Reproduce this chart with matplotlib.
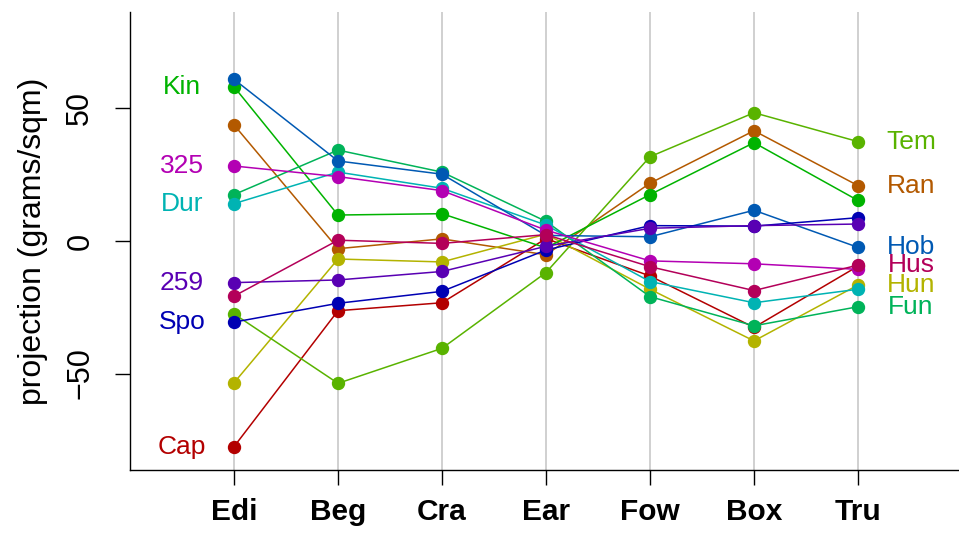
import matplotlib
matplotlib.use("Agg")
import matplotlib.pyplot as plt

plt.rcParams['font.family'] = ['Liberation Sans', 'DejaVu Sans']

# Variables along the x axis
categories = ["Edi", "Beg", "Cra", "Ear", "Fow", "Box", "Tru"]

# Projection of each site onto the variables (grams/sqm)
cap = [-77.6, -26.3, -23.3, 0.9, -13.2, -32.6, -9.5]
ran = [43.8, -2.9, 0.8, -5.2, 21.8, 41.6, 20.9]
hun = [-53.5, -6.8, -7.9, 2.6, -18.2, -37.7, -16.6]
tem = [-27.5, -53.7, -40.5, -11.9, 31.8, 48.4, 37.5]
kin = [58.2, 9.8, 10.3, -2.6, 17.5, 37.1, 15.3]
fun = [17.5, 34.3, 26.0, 7.4, -21.0, -32.0, -24.8]
dur = [14.1, 26.0, 19.9, 6.0, -15.3, -23.3, -18.2]
hob = [61.0, 30.2, 25.2, 2.1, 1.6, 11.6, -2.4]
spo = [-30.6, -23.5, -19.0, -3.4, 5.8, 5.6, 8.8]
s259 = [-15.7, -14.7, -11.5, -2.0, 4.8, 5.8, 6.4]
s325 = [28.3, 24.3, 19.0, 4.1, -7.5, -8.6, -10.7]
hus = [-20.8, 0.3, -0.9, 2.4, -9.7, -18.7, -9.1]

site_names = ["Cap", "Ran", "Hun", "Tem", "Kin", "Fun",
              "Dur", "Hob", "Spo", "259", "325", "Hus"]
site_values = [cap, ran, hun, tem, kin, fun, dur, hob, spo, s259, s325, hus]
site_colors = ["#B30000", "#B35900", "#B3B300", "#59B300", "#00B300", "#00B359",
               "#00B3B3", "#0059B3", "#0000B3", "#5900B3", "#B300B3", "#B30059"]

left_labels = ["Kin", "325", "Dur", "259", "Spo", "Cap"]
right_labels = ["Tem", "Ran", "Hob", "Hus", "Hun", "Fun"]

W, H = 959, 534
fig = plt.figure(figsize=(W / 100, H / 100), dpi=100)
ax_l, ax_r, ax_t, ax_b = 130, 962, 12, 470
ax = fig.add_axes([ax_l / W, 1 - ax_b / H, (ax_r - ax_l) / W, (ax_b - ax_t) / H])

x = list(range(len(categories)))
for xi in x:
    ax.axvline(xi, color="#c4c4c4", lw=1.1, zorder=0)

for name, vals, col in zip(site_names, site_values, site_colors):
    ax.plot(x, vals, color=col, lw=1.1, marker="o", ms=8.6, mec=col, mfc=col,
            zorder=2, clip_on=False)
    if name in left_labels:
        ax.text(-0.5, vals[0], name, color=col, fontsize=19, ha="center", va="center")
    if name in right_labels:
        ax.text(6.51, vals[-1], name, color=col, fontsize=19, ha="center", va="center")

ax.set_xlim(-1, 7)
ax.set_ylim(-86.4, 86.4)
ax.set_xticks(x)
ax.set_xticklabels(categories, fontsize=21.5, fontweight="bold")
ax.set_yticks([-50, 0, 50])
ax.set_yticklabels(["\u221250", "0", "50"], fontsize=22, rotation=90, va="center")
ax.tick_params(axis="both", length=11, width=1.0, color="black")
ax.tick_params(axis="x", pad=9)
ax.tick_params(axis="y", pad=14)
ax.spines["top"].set_visible(False)
ax.spines["right"].set_visible(False)
for s in ("left", "bottom"):
    ax.spines[s].set_linewidth(1.0)
ax.set_ylabel("projection (grams/sqm)", fontsize=23)
ax.yaxis.set_label_coords(-(130 - 48) / (ax_r - ax_l), 0.5)

fig.savefig("out.png", dpi=100)
